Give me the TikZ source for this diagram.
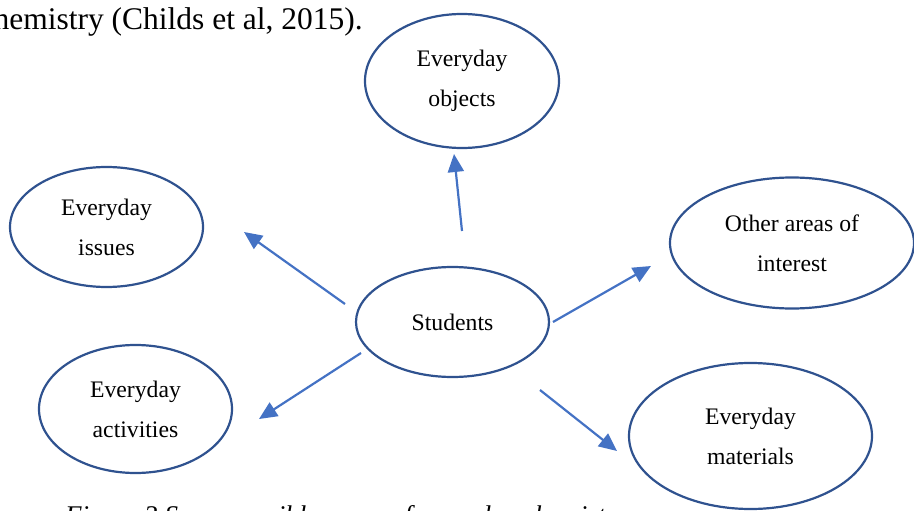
\documentclass[tikz,border=0pt]{standalone}
\usepackage{fontspec}
\setmainfont{Liberation Serif}
\usetikzlibrary{arrows.meta, shapes.geometric}

\definecolor{ringblue}{HTML}{2F528F}
\definecolor{arrowblue}{HTML}{4472C4}

\tikzset{
    bubble/.style = {ellipse, draw=ringblue, line width=2.2pt, inner sep=0pt,
                     align=center, font=\fontsize{23.7}{40}\selectfont},
    link/.style = {arrowblue, line width=2.2pt, -{Triangle[length=18pt, width=16pt]}}
}

\begin{document}
\begin{tikzpicture}[x=1pt, y=-1pt]
    \useasboundingbox (0,0) rectangle (914,511);
    \coordinate (S) at (452.5,322);
    \node at (363,30) [anchor = base east, inner sep=0pt, font=\fontsize{31.5}{36}\selectfont] (prev) {chemistry (Childs et al, 2015).};
    \node at (65,524) [anchor = base west, inner sep=0pt, font=\fontsize{27}{32}\selectfont\itshape] (cap) {Figure 3 Some possible areas of everyday chemistry};

    \node at (S) [bubble, minimum width=193pt, minimum height=110pt] (stu) {Students};
    \node at (462,81) [bubble, minimum width=194pt, minimum height=134pt] (obj) {Everyday\\objects};
    \node at (106.5,227) [bubble, minimum width=193pt, minimum height=120pt] (iss) {Everyday\\issues};
    \node at (792,243) [bubble, minimum width=244pt, minimum height=131pt] (oth) {Other areas of\\interest};
    \node at (135.5,409) [bubble, minimum width=193pt, minimum height=128pt] (act) {Everyday\\activities};
    \node at (750.5,436) [bubble, minimum width=243pt, minimum height=146pt] (mat) {Everyday\\materials};

    % arrow ends, kept clear of the ellipses
    \coordinate (stu-up) at (462,231);
    \coordinate (obj-in) at (454,154);
    \coordinate (stu-ul) at (345,304);
    \coordinate (iss-in) at (244,232);
    \coordinate (stu-r) at (553,322);
    \coordinate (oth-in) at (651,266);
    \coordinate (stu-ll) at (361,353);
    \coordinate (act-in) at (259,419);
    \coordinate (stu-lr) at (540,390);
    \coordinate (mat-in) at (617,451);

    \draw [link] (stu-up) -- (obj-in);
    \draw [link] (stu-ul) -- (iss-in);
    \draw [link] (stu-r) -- (oth-in);
    \draw [link] (stu-ll) -- (act-in);
    \draw [link] (stu-lr) -- (mat-in);
\end{tikzpicture}
\end{document}
